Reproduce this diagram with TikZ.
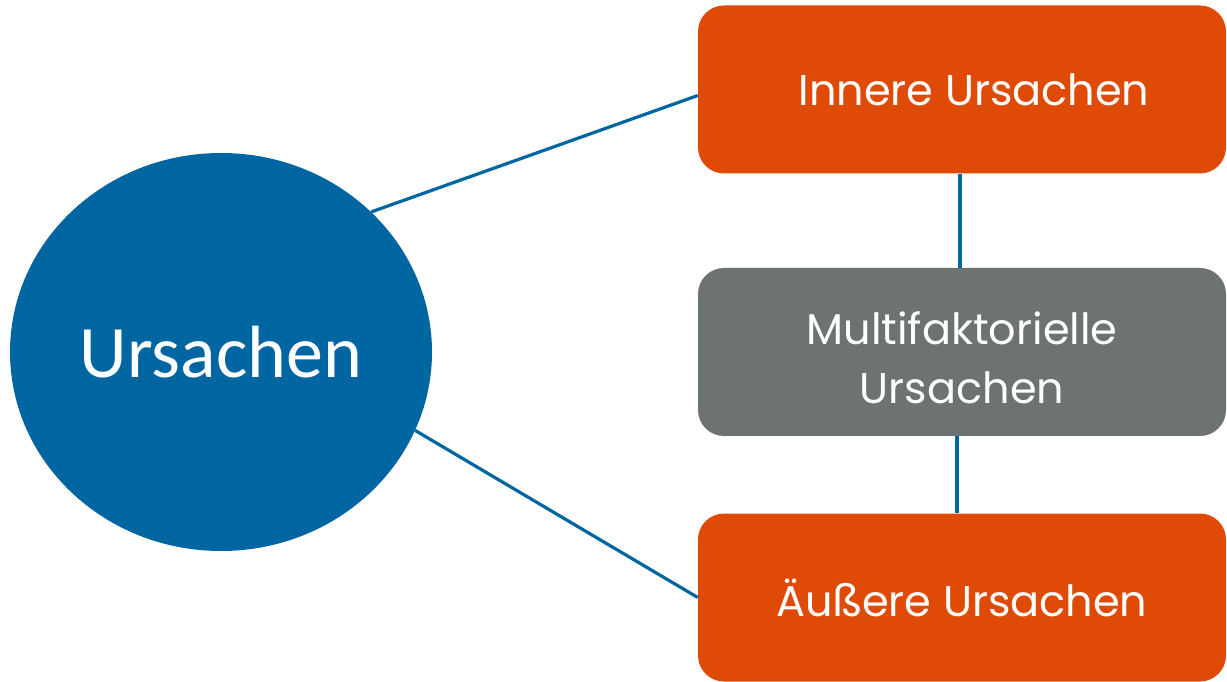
\documentclass[tikz,border=0pt]{standalone}
\usepackage{fontspec}
\setmainfont{Poppins}
\newfontfamily\circfont{Carlito}
\usetikzlibrary{shapes.geometric}
\definecolor{cblue}{HTML}{0066A1}
\definecolor{corange}{HTML}{DF4A07}
\definecolor{cgray}{HTML}{6D7272}
\tikzset{
  boxnode/.style={rectangle, rounded corners=26pt, minimum width=528pt, minimum height=168pt, inner sep=0pt, text=white, align=center, font=\fontsize{43}{59}\selectfont},
  conn/.style={draw=cblue, line width=3.2pt}
}
\begin{document}
\begin{tikzpicture}[x=1pt,y=1pt]
\useasboundingbox (0,0) rectangle (1227,681);
\node[ellipse, fill=cblue, minimum width=422pt, minimum height=398pt, inner sep=0pt, text=white, font=\circfont\fontsize{74}{80}\selectfont] (c) at (221,329) {Ursachen};
\node[boxnode, fill=corange] (top) at (962,591.5) {\hspace*{24pt}Innere Ursachen};
\node[boxnode, fill=cgray] (mid) at (962,329) {\raisebox{-6pt}[\height][\depth]{\parbox{500pt}{\centering Multifaktorielle\\Ursachen}}};
\node[boxnode, fill=corange] (bot) at (962,83.5) {Äußere Ursachen};
\draw[conn] (c.43) -- ([yshift=-6pt]top.west);
\draw[conn] (c.-22) -- (bot.west);
\draw[conn] ([xshift=-2pt]top.south) -- ([xshift=-2pt]mid.north);
\draw[conn] ([xshift=-5pt]mid.south) -- ([xshift=-5pt]bot.north);
\end{tikzpicture}
\end{document}
